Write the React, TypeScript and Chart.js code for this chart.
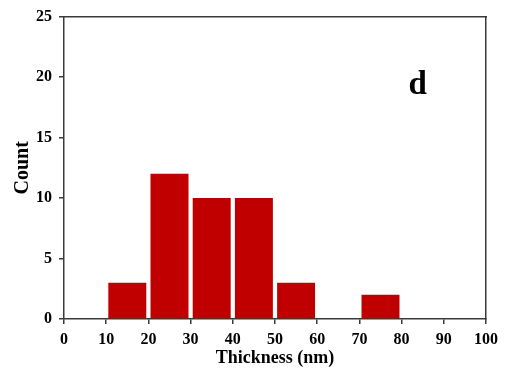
import React, { useEffect, useRef } from "react";
import { Chart, registerables } from "chart.js";

Chart.register(...registerables);

const binStarts = [10, 20, 30, 40, 50, 60, 70];
const binWidth = 10;
const counts = [3, 12, 10, 10, 3, 0, 2];
const xTitle = "Thickness (nm)";
const yTitle = "Count";
const panelLabel = "d";

const FONT = "'Liberation Serif', 'Times New Roman', serif";
const AXIS = "#3a3a3a";

const panelPlugin = {
  id: "panelLabel",
  afterDraw(chart: any) {
    const { ctx, scales } = chart;
    ctx.save();
    ctx.font = `bold 33px ${FONT}`;
    ctx.fillStyle = "#000";
    ctx.textAlign = "center";
    ctx.textBaseline = "alphabetic";
    ctx.fillText(panelLabel, scales.x.getPixelForValue(83.8), scales.y.getPixelForValue(18.6));
    ctx.restore();
  },
};

export default function App() {
  const ref = useRef<HTMLCanvasElement>(null);
  useEffect(() => {
    const data = binStarts.map((s, i) => ({ x: s + binWidth / 2, y: counts[i] }));
    const chart = new Chart(ref.current!, {
      type: "bar",
      data: {
        datasets: [
          {
            data,
            backgroundColor: "#C00000",
            borderWidth: 0,
            barPercentage: 0.9,
            categoryPercentage: 1,
          },
        ],
      },
      options: {
        animation: false,
        responsive: false,
        maintainAspectRatio: false,
        layout: { padding: { left: 11, top: 15, right: 20, bottom: 0 } },
        plugins: { legend: { display: false }, tooltip: { enabled: false } },
        scales: {
          x: {
            type: "linear",
            position: "bottom",
            offset: false,
            min: 0,
            max: 100,
            ticks: { stepSize: 10, color: "#000", font: { family: FONT, size: 16, weight: "bold" }, padding: 6 },
            grid: { display: true, offset: false, drawOnChartArea: false, drawTicks: true, tickLength: 5, color: AXIS, lineWidth: 1.5 },
            border: { display: true, color: AXIS, width: 1.5 },
            title: { display: true, text: xTitle, color: "#000", font: { family: FONT, size: 18, weight: "bold" }, padding: { top: 4, bottom: 7 } },
            afterFit: (s: any) => { s.height = 57; },
          },
          y: {
            type: "linear",
            position: "left",
            min: 0,
            max: 25,
            ticks: { stepSize: 5, color: "#000", font: { family: FONT, size: 16, weight: "bold" }, padding: 7 },
            grid: { display: true, drawOnChartArea: false, drawTicks: true, tickLength: 5, color: AXIS, lineWidth: 1.5 },
            border: { display: true, color: AXIS, width: 1.5 },
            title: { display: true, text: yTitle, color: "#000", font: { family: FONT, size: 20, weight: "bold" }, padding: { top: 0, bottom: 4 } },
            afterFit: (s: any) => { s.width = 53; },
          },
          x2: {
            type: "linear",
            position: "top",
            min: 0,
            max: 100,
            ticks: { display: false },
            grid: { display: false },
            border: { display: true, color: AXIS, width: 1.5 },
            afterFit: (s: any) => { s.height = 0; },
          },
          y2: {
            type: "linear",
            position: "right",
            min: 0,
            max: 25,
            ticks: { display: false },
            grid: { display: false },
            border: { display: true, color: AXIS, width: 1.5 },
            afterFit: (s: any) => { s.width = 0; },
          },
        },
      } as any,
      plugins: [panelPlugin],
    });
    return () => chart.destroy();
  }, []);
  return (
    <div style={{ position: "fixed", left: 0, top: 0, width: 506, height: 376, background: "#fff" }}>
      <canvas ref={ref} width={506} height={376} style={{ width: 506, height: 376 }} />
    </div>
  );
}
